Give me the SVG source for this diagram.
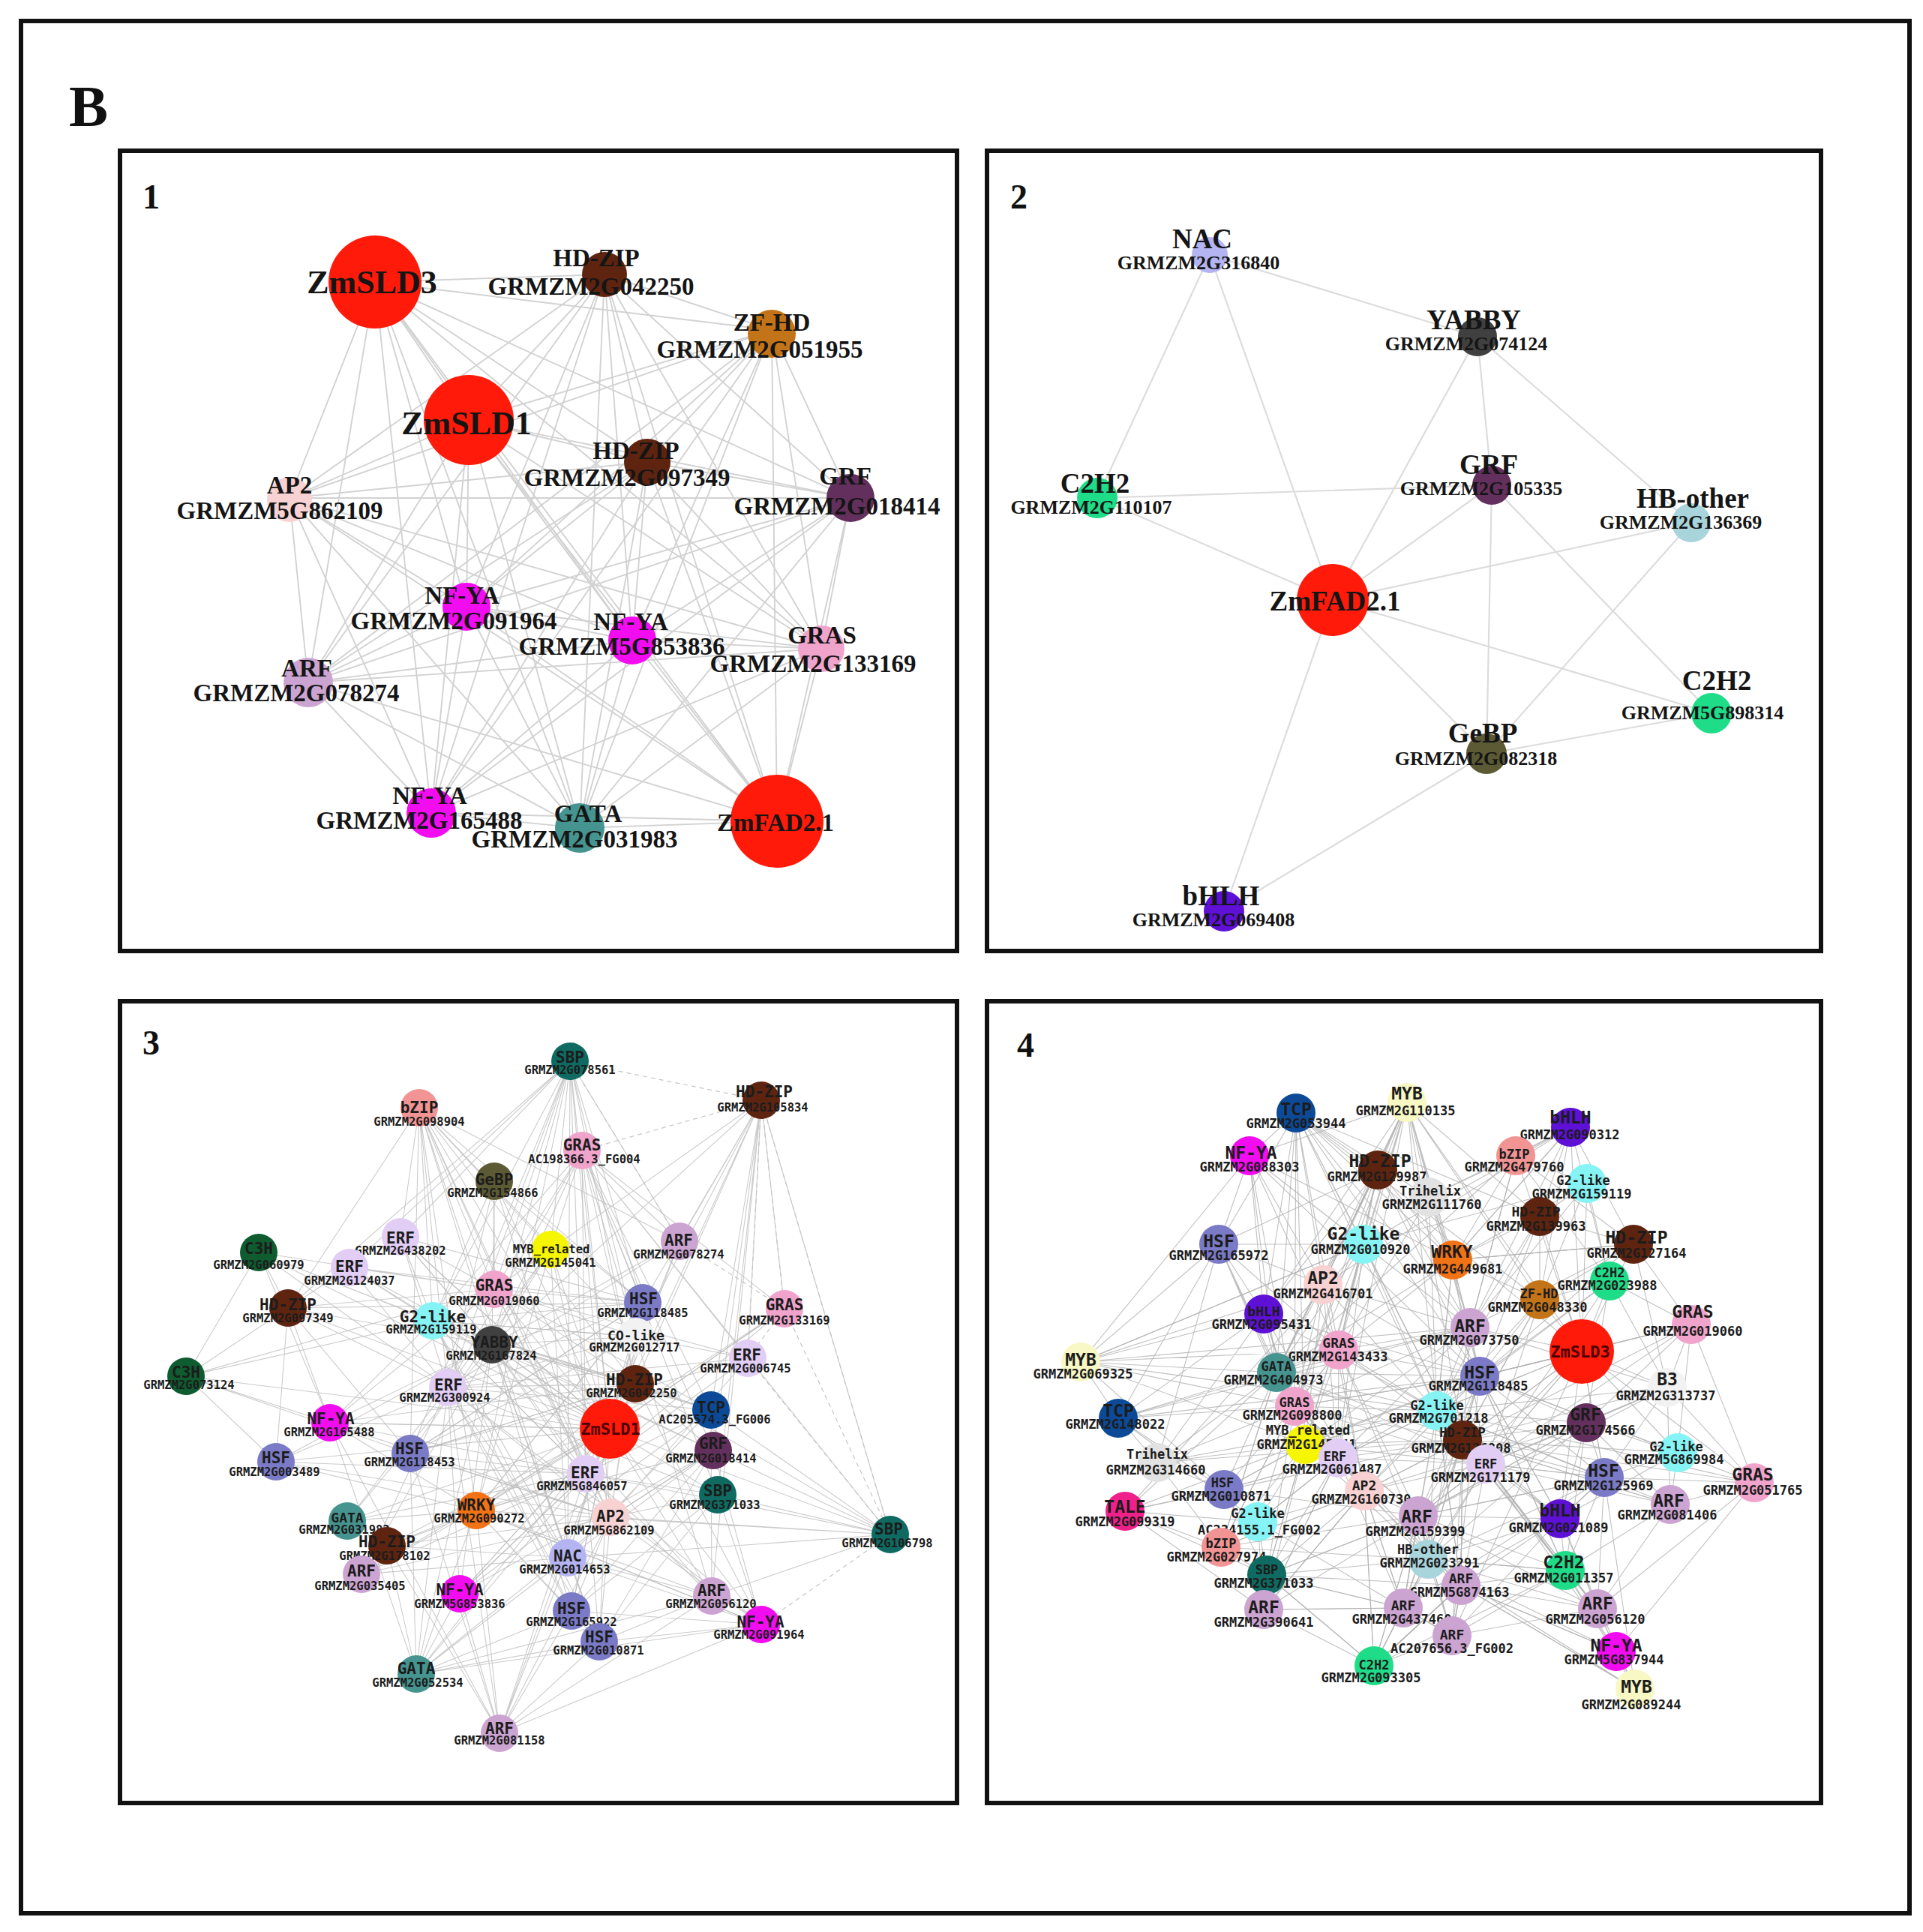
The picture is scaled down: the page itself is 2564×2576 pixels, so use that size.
<svg xmlns="http://www.w3.org/2000/svg" width="2564" height="2576" viewBox="0 0 2564 2576">
<style>
.frame{fill:none;stroke:#111;stroke-width:6}
.panel{fill:#fff;stroke:#111;stroke-width:6}
.lbl{font-family:"Liberation Serif","Times New Roman",serif;font-weight:bold;fill:#111}
.e1{fill:none;stroke:#d2d2d2;stroke-width:1.9;stroke-linejoin:round}
.e2{fill:none;stroke:#dcdcdc;stroke-width:2.2}
.e3{fill:none;stroke:#b9b9b9;stroke-width:1.1;stroke-opacity:.75;stroke-linejoin:round}
.e4{fill:none;stroke:#b0b0b0;stroke-width:1.1;stroke-opacity:.8;stroke-linejoin:round}
.ed{fill:none;stroke:#c4c4c4;stroke-width:1.2;stroke-dasharray:6 5}
.s{font-family:"Liberation Serif","Times New Roman",serif;font-weight:bold;fill:#151515;text-anchor:middle}
.s33{font-size:33px}.s44{font-size:44px}.s38{font-size:37px}.s26{font-size:26px}
.m{font-family:"DejaVu Sans Mono","Liberation Mono",monospace;font-weight:bold;fill:#1c1c1c;text-anchor:middle}
.f3{font-size:21px}.i3{font-size:15.5px}.f4{font-size:23px}.i4{font-size:17px}.g17{font-size:17px}.g18{font-size:18px}
.zt{fill:#4a0000;font-size:22px}
.red{fill:#ff1a0a}.hdzip{fill:#5e2410}.zfhd{fill:#c47418}.grf{fill:#63305d}.ap2{fill:#f8d2d2}
.nfya{fill:#f20cf0}.gras{fill:#f0a4cc}.arf{fill:#cca4d2}.gata{fill:#46948f}.nac{fill:#b4b4f2}
.yabby{fill:#404040}.c2h2{fill:#1fdc88}.hbo{fill:#a8d4dc}.gebp{fill:#5c5a34}.bhlh{fill:#5e10d6}
.sbp{fill:#0f6b62}.bzip{fill:#f29494}.erf{fill:#e2cdf5}.c3h{fill:#0e5c30}.g2{fill:#86f4f4}
.hsf{fill:#7a7ac6}.mybr{fill:#f6f600}.wrky{fill:#f27216}.tcp{fill:#0c4a98}.pale{fill:#f2f2f2}
.myb{fill:#f8f8c4}.tri{fill:#e2e2e2}.tale{fill:#f0208a}
</style>
<rect x="0" y="0" width="2564" height="2576" fill="#fff"/>
<rect class="frame" x="28" y="28" width="2518" height="2523"/>
<text class="lbl" x="92" y="168" font-size="78">B</text>
<rect class="panel" x="160" y="201" width="1116" height="1067"/>
<rect class="panel" x="1316" y="201" width="1112" height="1067"/>
<rect class="panel" x="160" y="1335" width="1116" height="1069"/>
<rect class="panel" x="1316" y="1335" width="1112" height="1069"/>
<text class="lbl" x="190" y="278" font-size="46">1</text>
<text class="lbl" x="1347" y="278" font-size="46">2</text>
<text class="lbl" x="190" y="1406" font-size="46">3</text>
<text class="lbl" x="1356" y="1409" font-size="46">4</text>

<g id="connectors">
<g id="edges-panel1">
<path class="e1" d="M500,376L806,366L1036,1095L1029,440L773,1104L625,560L575,1084L863,616L411,910L386,664L1095,865L1134,664L843,854L622,809"/>
<path class="e1" d="M806,366L1029,440L500,376L625,560L1036,1095L863,616L773,1104L386,664L575,1084L1134,664L411,910L622,809L1095,865L843,854"/>
<path class="e1" d="M1029,440L625,560L806,366L863,616L500,376L386,664L1036,1095L1134,664L773,1104L622,809L575,1084L843,854L411,910L1095,865"/>
<path class="e1" d="M625,560L863,616L1029,440L386,664L806,366L1134,664L500,376L622,809L1036,1095L843,854L773,1104L1095,865L575,1084L411,910"/>
<path class="e1" d="M863,616L386,664L625,560L1134,664L1029,440L622,809L806,366L843,854L500,376L1095,865L1036,1095L411,910L773,1104L575,1084"/>
<path class="e1" d="M386,664L1134,664L863,616L622,809L625,560L843,854L1029,440L1095,865L806,366L411,910L500,376L575,1084L1036,1095L773,1104"/>
<path class="e1" d="M1134,664L622,809L386,664L843,854L863,616L1095,865L625,560L411,910L1029,440L575,1084L806,366L773,1104L500,376L1036,1095"/>
</g>
<g id="edges-panel2">
<path class="e2" d="M1613,340L1970,449M1613,340L1463,664M1613,340L1777,800M1970,449L1989,647M1970,449L1777,800M1970,449L2255,697M1463,664L1989,647M1463,664L1777,800M1989,647L1777,800M1989,647L1982,1005M1989,647L2282,951M2255,697L1777,800M2255,697L1982,1005M1777,800L2282,951M1777,800L1982,1005M1777,800L1632,1215M1982,1005L2282,951M1982,1005L1632,1215"/>
</g>
<g id="edges-panel3">
<path class="e3" d="M559,1477L659,1719L760,1415L577,1761L559,1477L656,1793L760,1415L857,1737L559,1477L597,1850L760,1415L813,1905L559,1477L547,1938L760,1415L781,1965L559,1477L635,2014L760,1415L814,2023L559,1477L734,1666L760,1415L906,1655L559,1477L384,1744L760,1415L848,1782L559,1477L847,1845L760,1415L757,2077L559,1477L534,1649L760,1415L466,1690"/>
<path class="e3" d="M1015,1467L906,1655L776,1534L857,1737L1015,1467L1046,1745L776,1534L848,1782L1015,1467L997,1811L776,1534L847,1845L1015,1467L813,1905L776,1534L948,1880L1015,1467L951,1934L776,1534L957,1993L1015,1467L1187,2046L776,1534L734,1666L1015,1467L659,1719L776,1534L656,1793L1015,1467L949,2128L776,1534L781,1965L659,1575L659,1719L776,1534L577,1761L659,1575L597,1850L776,1534L813,1905"/>
<path class="e3" d="M659,1575L656,1793L534,1649L857,1737L659,1575L813,1905L534,1649L577,1761L466,1690L659,1719L534,1649L597,1850L466,1690L813,1905L345,1670L384,1744L466,1690L577,1761L345,1670L659,1719L384,1744L656,1793L345,1670L440,1897L384,1744L597,1850L345,1670L248,1835L384,1744L547,1938L248,1835L440,1897L384,1744L368,1949L248,1835L577,1761L440,1897L659,1719L248,1835L813,1905"/>
<path class="e3" d="M555,2232L635,2014L666,2311L814,2023L555,2232L757,2077L666,2311L613,2125L555,2232L781,1965L666,2311L813,1905L555,2232L547,1938L666,2311L762,2148L555,2232L516,2061L666,2311L799,2189L555,2232L613,2125L666,2311L949,2128L555,2232L814,2023L666,2311L757,2077L555,2232L597,1850L666,2311L635,2014L555,2232L440,1897L666,2311L1015,2166L555,2232L656,1793"/>
<path class="e3" d="M1187,2046L813,1905L1015,2166L951,1934L1187,2046L957,1993L1015,2166L814,2023L1187,2046L781,1965L1015,2166L757,2077L1187,2046L948,1880L949,2128L813,1905L1187,2046L847,1845L1015,2166L635,2014L1187,2046L949,2128L799,2189L1015,2166L762,2148L957,1993L799,2189L951,1934L762,2148L813,1905L799,2189L781,1965L613,2125L948,1880L757,2077L951,1934L814,2023L997,1811L781,1965L1046,1745L813,1905L906,1655"/>
<path class="e3" d="M734,1666L656,1793L857,1737L597,1850L848,1782L547,1938L847,1845L635,2014L813,1905L577,1761L781,1965L659,1719L814,2023L734,1666L757,2077L857,1737L656,1793L847,1845L577,1761L848,1782L597,1850L813,1905L659,1719L781,1965L656,1793L814,2023L547,1938L734,1666L635,2014L857,1737L813,1905L656,1793L757,2077L848,1782L659,1719L847,1845L597,1850L957,1993L577,1761L951,1934L656,1793L948,1880L659,1719L997,1811L848,1782L814,2023L857,1737L547,1938L781,1965L906,1655"/>
<path class="e3" d="M440,1897L656,1793L368,1949L813,1905L440,1897L635,2014L368,1949L781,1965L440,1897L814,2023L368,1949L597,1850L463,2028L813,1905L516,2061L781,1965L463,2028L635,2014L516,2061L757,2077L482,2099L813,1905L463,2028L656,1793L482,2099L635,2014L516,2061L814,2023L482,2099L597,1850L613,2125L813,1905L482,2099L781,1965L613,2125L656,1793L762,2148L635,2014L799,2189L597,1850L762,2148L577,1761L799,2189L656,1793L949,2128L635,2014L1015,2166L597,1850"/>
<path class="e3" d="M659,1719L857,1737L577,1761L847,1845L656,1793L813,1905L734,1666L597,1850L906,1655L656,1793L848,1782L577,1761L948,1880L597,1850L997,1811L547,1938L857,1737L635,2014L1046,1745L813,1905L534,1649L656,1793L466,1690L857,1737L384,1744L813,1905L440,1897L847,1845L547,1938L814,2023L597,1850L757,2077L577,1761L781,1965L635,2014L951,1934L613,2125L813,1905L762,2148L814,2023L799,2189L757,2077L949,2128L781,1965L957,1993L814,2023L951,1934L847,1845L948,1880L781,1965"/>
<path class="ed" d="M760,1415L1015,1467L1187,2046L1015,2166M1015,1467L1046,1745L1187,2046M906,1655L1046,1745M760,1415L906,1655M1015,1467L997,1811L1187,2046M1046,1745L997,1811M776,1534L1015,1467"/>
</g>
<g id="edges-panel4">
<path class="e4" d="M1728,1484L1818,1659L1876,1470L1764,1713L1728,1484L1685,1752L1876,1470L1960,1770L1728,1484L1785,1800L1876,1470L2109,1802L1728,1484L1702,1830L1876,1470L1973,1835L1728,1484L1937,1680L1876,1470L1916,1881L1728,1484L1726,1875L1876,1470L1950,1920L1728,1484L1905,1596L1876,1470L2053,1622L1728,1484L1837,1560L1876,1470L2053,1733L1728,1484L1740,1926L1876,1470L1784,1944"/>
<path class="e4" d="M1666,1541L1625,1659L1837,1560L1685,1752L1666,1541L1764,1713L1837,1560L1785,1800L1666,1541L1818,1659L1837,1560L1702,1830L1666,1541L1937,1680L1837,1560L1960,1770L1666,1541L1726,1875L1837,1560L1973,1835L1666,1541L1441,1816L1625,1659L1818,1659L1441,1816L1685,1752L1625,1659L1785,1800L1441,1816L1702,1830L1625,1659L1491,1891L1441,1816L1726,1875L1625,1659L1764,1713L1441,1816L1740,1926L1625,1659L1543,1950L1491,1891L1685,1752L1543,1950L1702,1830L1491,1891L1785,1800"/>
<path class="e4" d="M2094,1503L2021,1541L2116,1578L2053,1622L2094,1503L2178,1659L2021,1541L1937,1680L2094,1503L2146,1708L2116,1578L2053,1733L2094,1503L2109,1802L2021,1541L1960,1770L2116,1578L2109,1802L2053,1622L1937,1680L2178,1659L2109,1802L2116,1578L2146,1708L2021,1541L1905,1596L2094,1503L2053,1622L2178,1659L2053,1733L2146,1708L2255,1766L2178,1659L2223,1850L2146,1708L2109,1802L2255,1766L2223,1850L2109,1802L2053,1733L2053,1622L1960,1770L1905,1596L1937,1680L2053,1733L1973,1835"/>
<path class="e4" d="M2109,1802L1973,1835L2115,1897L1916,1881L2109,1802L1950,1920L2115,1897L1981,1952L2109,1802L1960,1770L1973,1835L1950,1920L2053,1733L1916,1881L1937,1680L1973,1835L1960,1770L1916,1881L2146,1708L2115,1897L2223,1850L2139,1970L2109,1802L2237,1937L2255,1766L2115,1897L2237,1937L2139,1970L2339,1977L2227,2006L2237,1937L2080,2025L2139,1970L2115,1897L2227,2006L2223,1850L2339,1977L2255,1766L2237,1937L2115,1897"/>
<path class="e4" d="M1441,1816L1632,1986L1491,1891L1677,2029L1500,2015L1632,1986L1543,1950L1628,2063L1500,2015L1677,2029L1491,1891L1726,1875L1543,1950L1740,1926L1632,1986L1784,1944L1677,2029L1819,1988L1628,2063L1689,2100L1677,2029L1685,2146L1689,2100L1819,1988L1685,2146L1871,2144L1689,2100L1904,2079L1628,2063L1891,2021L1632,1986L1689,2100L1500,2015L1685,2146"/>
<path class="e4" d="M2180,2252L2155,2202L2130,2145L2087,2094L2180,2252L2080,2025L2155,2202L2087,2094L2130,2145L2139,1970L2180,2252L1948,2114L2155,2202L1904,2079L2130,2145L1936,2181L1832,2221L1871,2144L1936,2181L1948,2114L1832,2221L1904,2079L1936,2181L1891,2021L1832,2221L1689,2100L1871,2144L1891,2021L1948,2114L1904,2079L2087,2094L1981,1952L2130,2145L2080,2025L2139,1970L2087,2094L2227,2006L2130,2145L2339,1977L2155,2202"/>
<path class="e4" d="M1764,1713L1960,1770L1785,1800L1973,1835L1702,1830L1916,1881L1726,1875L1950,1920L1740,1926L1981,1952L1784,1944L1819,1988L1891,2021L1916,1881L1785,1800L1950,1920L1702,1830L1981,1952L1726,1875L1973,1835L1784,1944L1960,1770L1740,1926L1916,1881L1819,1988L1950,1920L1891,2021L1981,1952L1904,2079L1950,1920L1948,2114L1916,1881L1871,2144L1973,1835L1936,2181L1960,1770L1904,2079L1785,1800L1891,2021L1726,1875L1819,1988L1784,1944L1916,1881L1685,1752L1973,1835L1764,1713L1950,1920L1818,1659L1916,1881L1937,1680L1981,1952L2109,1802L1891,2021L2115,1897L1819,1988L1973,1835L2109,1802L1916,1881"/>
<path class="e4" d="M1685,1752L1702,1830L1785,1800L1726,1875L1685,1752L1740,1926L1702,1830L1784,1944L1785,1800L1819,1988L1726,1875L1677,2029L1740,1926L1632,1986L1702,1830L1628,2063L1726,1875L1689,2100L1740,1926L1685,2146L1784,1944L1871,2144L1819,1988L1832,2221L1891,2021L1871,2144L1904,2079L1832,2221L1948,2114L1936,2181L1871,2144L1685,2146L1832,2221L1689,2100L1891,2021L2080,2025L2087,2094L1891,2021L2139,1970L1981,1952L2080,2025L1950,1920L2087,2094L1973,1835L2080,2025L1916,1881L2130,2145L1981,1952L2155,2202L1948,2114L2180,2252L1904,2079"/>
<path class="e4" d="M1441,1816L1960,1770L1491,1891L1973,1835L1500,2015L1950,1920L1543,1950L1916,1881L1441,1816L1818,1659L1500,2015L1702,1830L1628,2063L1819,1988L1685,2146L1891,2021L1689,2100L1948,2114L1832,2221L2087,2094L1936,2181L2080,2025L1871,2144L2139,1970L1904,2079L2115,1897L1891,2021L2223,1850L1981,1952L2227,2006L1950,1920L2255,1766L1973,1835L2339,1977L1916,1881L2223,1850L1960,1770L2178,1659L1937,1680L2116,1578L1818,1659L2094,1503L1764,1713L1876,1470L1666,1541L1728,1484L1625,1659"/>
<path class="e4" d="M1818,1659L1785,1800L1937,1680L1702,1830L1960,1770L1726,1875L1973,1835L1740,1926L1916,1881L1784,1944L1950,1920L1819,1988L1981,1952L1891,2021L1973,1835L1904,2079L1916,1881L1948,2114L1950,1920L1871,2144L1981,1952L1936,2181L2109,1802L1950,1920L2053,1733L1981,1952L2146,1708L1973,1835L2053,1622L1916,1881L1905,1596L1785,1800L1837,1560L1702,1830L2021,1541L1960,1770L2094,1503L1937,1680L2178,1659L1973,1835L2255,1766L1981,1952L2223,1850L1950,1920L2237,1937L1973,1835L2139,1970L1916,1881L2227,2006L1950,1920L2339,1977L2109,1802"/>
<path class="e4" d="M1764,1713L1702,1830L1818,1659L1726,1875L1764,1713L1740,1926L1818,1659L1784,1944L1764,1713L1819,1988L1685,1752L1726,1875L1785,1800L1740,1926L1702,1830L1819,1988L1726,1875L1891,2021L1740,1926L1904,2079L1784,1944L1948,2114L1819,1988L1871,2144L1677,2029L1784,1944L1632,1986L1726,1875L1628,2063L1740,1926L1689,2100L1784,1944L1685,2146L1819,1988L1832,2221L1904,2079L1891,2021L1936,2181L1871,2144L1832,2221L1948,2114L2087,2094L1904,2079L2080,2025L1948,2114L2130,2145L1891,2021L2139,1970L1950,1920L2080,2025L1973,1835L2087,2094L1981,1952L2139,1970L2109,1802L2080,2025L2115,1897L2087,2094L1916,1881L2139,1970"/>
</g>
</g>

<g id="panel1-nodes">
<g id="p1-zmsld3"><circle class="red" cx="500" cy="376" r="62"/><text class="s s44" x="496" y="391">ZmSLD3</text></g>
<g id="p1-hdzip-042250"><circle class="hdzip" cx="806" cy="366" r="30"/><text class="s s33" x="795" y="355">HD-ZIP</text><text class="s s33" x="788" y="393">GRMZM2G042250</text></g>
<g id="p1-zfhd"><circle class="zfhd" cx="1029" cy="445" r="32"/><text class="s s33" x="1029" y="441">ZF-HD</text><text class="s s33" x="1013" y="477">GRMZM2G051955</text></g>
<g id="p1-zmsld1"><circle class="red" cx="625" cy="560" r="60"/><text class="s s44" x="622" y="579">ZmSLD1</text></g>
<g id="p1-hdzip-097349"><circle class="hdzip" cx="863" cy="616" r="31"/><text class="s s33" x="848" y="612">HD-ZIP</text><text class="s s33" x="836" y="648">GRMZM2G097349</text></g>
<g id="p1-ap2"><circle class="ap2" cx="386" cy="666" r="30"/><text class="s s33" x="386" y="658">AP2</text><text class="s s33" x="373" y="692">GRMZM5G862109</text></g>
<g id="p1-grf"><circle class="grf" cx="1134" cy="664" r="32"/><text class="s s33" x="1127" y="646">GRF</text><text class="s s33" x="1116" y="686">GRMZM2G018414</text></g>
<g id="p1-nfya-091964"><circle class="nfya" cx="622" cy="809" r="32"/><text class="s s33" x="616" y="805">NF-YA</text><text class="s s33" x="605" y="839">GRMZM2G091964</text></g>
<g id="p1-nfya-853836"><circle class="nfya" cx="843" cy="854" r="32"/><text class="s s33" x="841" y="840">NF-YA</text><text class="s s33" x="829" y="873">GRMZM5G853836</text></g>
<g id="p1-gras"><circle class="gras" cx="1095" cy="865" r="31"/><text class="s s33" x="1096" y="858">GRAS</text><text class="s s33" x="1084" y="896">GRMZM2G133169</text></g>
<g id="p1-arf"><circle class="arf" cx="411" cy="910" r="33"/><text class="s s33" x="409" y="902">ARF</text><text class="s s33" x="395" y="935">GRMZM2G078274</text></g>
<g id="p1-nfya-165488"><circle class="nfya" cx="575" cy="1084" r="33"/><text class="s s33" x="573" y="1072">NF-YA</text><text class="s s33" x="559" y="1105">GRMZM2G165488</text></g>
<g id="p1-gata"><circle class="gata" cx="773" cy="1104" r="33"/><text class="s s33" x="784" y="1096">GATA</text><text class="s s33" x="766" y="1130">GRMZM2G031983</text></g>
<g id="p1-zmfad21"><circle class="red" cx="1036" cy="1095" r="62"/><text class="s s33" x="1034" y="1108">ZmFAD2.1</text></g>
</g>

<g id="panel2-nodes">
<g id="p2-nac"><circle class="nac" cx="1613" cy="340" r="24"/><text class="s s38" x="1603" y="331">NAC</text><text class="s s26" x="1598" y="359">GRMZM2G316840</text></g>
<g id="p2-yabby"><circle class="yabby" cx="1970" cy="449" r="26"/><text class="s s38" x="1965" y="439">YABBY</text><text class="s s26" x="1955" y="467">GRMZM2G074124</text></g>
<g id="p2-c2h2-110107"><circle class="c2h2" cx="1463" cy="664" r="27"/><text class="s s38" x="1460" y="657">C2H2</text><text class="s s26" x="1455" y="685">GRMZM2G110107</text></g>
<g id="p2-grf"><circle class="grf" cx="1989" cy="647" r="26"/><text class="s s38" x="1985" y="632">GRF</text><text class="s s26" x="1975" y="660">GRMZM2G105335</text></g>
<g id="p2-hbother"><circle class="hbo" cx="2255" cy="697" r="26"/><text class="s s38" x="2257" y="677">HB-other</text><text class="s s26" x="2241" y="705">GRMZM2G136369</text></g>
<g id="p2-zmfad21"><circle class="red" cx="1777" cy="800" r="48"/><text class="s s38" x="1780" y="814">ZmFAD2.1</text></g>
<g id="p2-c2h2-898314"><circle class="c2h2" cx="2282" cy="951" r="27"/><text class="s s38" x="2289" y="920">C2H2</text><text class="s s26" x="2270" y="959">GRMZM5G898314</text></g>
<g id="p2-gebp"><circle class="gebp" cx="1982" cy="1005" r="27"/><text class="s s38" x="1977" y="990">GeBP</text><text class="s s26" x="1968" y="1020">GRMZM2G082318</text></g>
<g id="p2-bhlh"><circle class="bhlh" cx="1632" cy="1215" r="27"/><text class="s s38" x="1628" y="1207">bHLH</text><text class="s s26" x="1618" y="1235">GRMZM2G069408</text></g>
</g>

<g id="panel3-nodes">
<g id="p3-sbp-078561"><circle class="sbp" cx="760" cy="1415" r="25"/><text class="m f3" x="760" y="1417">SBP</text><text class="m i3" x="760" y="1432">GRMZM2G078561</text></g>
<g id="p3-bzip"><circle class="bzip" cx="559" cy="1477" r="25"/><text class="m f3" x="559" y="1484">bZIP</text><text class="m i3" x="559" y="1501">GRMZM2G098904</text></g>
<g id="p3-hdzip-105834"><circle class="hdzip" cx="1015" cy="1467" r="25"/><text class="m f3" x="1019" y="1463">HD-ZIP</text><text class="m i3" x="1017" y="1482">GRMZM2G105834</text></g>
<g id="p3-gras-ac198366"><circle class="gras" cx="776" cy="1534" r="25"/><text class="m f3" x="776" y="1534">GRAS</text><text class="m i3" x="779" y="1551">AC198366.3_FG004</text></g>
<g id="p3-gebp"><circle class="gebp" cx="659" cy="1575" r="25"/><text class="m f3" x="659" y="1580">GeBP</text><text class="m i3" x="657" y="1596">GRMZM2G154866</text></g>
<g id="p3-erf-438202"><circle class="erf" cx="534" cy="1649" r="25"/><text class="m f3" x="534" y="1658">ERF</text><text class="m i3" x="534" y="1673">GRMZM2G438202</text></g>
<g id="p3-c3h-060979"><circle class="c3h" cx="345" cy="1670" r="25"/><text class="m f3" x="345" y="1672">C3H</text><text class="m i3" x="345" y="1692">GRMZM2G060979</text></g>
<g id="p3-erf-124037"><circle class="erf" cx="466" cy="1690" r="25"/><text class="m f3" x="466" y="1696">ERF</text><text class="m i3" x="466" y="1713">GRMZM2G124037</text></g>
<g id="p3-mybrel"><circle class="mybr" cx="734" cy="1666" r="25"/><text class="m i3" x="735" y="1671">MYB_related</text><text class="m i3" x="734" y="1689">GRMZM2G145041</text></g>
<g id="p3-arf-078274"><circle class="arf" cx="906" cy="1655" r="25"/><text class="m f3" x="905" y="1661">ARF</text><text class="m i3" x="905" y="1678">GRMZM2G078274</text></g>
<g id="p3-hdzip-097349"><circle class="hdzip" cx="384" cy="1744" r="25"/><text class="m f3" x="384" y="1747">HD-ZIP</text><text class="m i3" x="384" y="1763">GRMZM2G097349</text></g>
<g id="p3-gras-019060"><circle class="gras" cx="659" cy="1719" r="25"/><text class="m f3" x="659" y="1721">GRAS</text><text class="m i3" x="659" y="1740">GRMZM2G019060</text></g>
<g id="p3-g2like"><circle class="g2" cx="577" cy="1761" r="25"/><text class="m f3" x="577" y="1763">G2-like</text><text class="m i3" x="575" y="1778">GRMZM2G159119</text></g>
<g id="p3-yabby"><circle class="yabby" cx="656" cy="1793" r="25"/><text class="m f3" x="659" y="1797">YABBY</text><text class="m i3" x="655" y="1813">GRMZM2G167824</text></g>
<g id="p3-hsf-118485"><circle class="hsf" cx="857" cy="1737" r="25"/><text class="m f3" x="858" y="1739">HSF</text><text class="m i3" x="857" y="1756">GRMZM2G118485</text></g>
<g id="p3-gras-133169"><circle class="gras" cx="1046" cy="1745" r="25"/><text class="m f3" x="1046" y="1747">GRAS</text><text class="m i3" x="1046" y="1766">GRMZM2G133169</text></g>
<g id="p3-colike"><circle class="pale" cx="848" cy="1782" r="25"/><text class="m g18" x="848" y="1787">CO-like</text><text class="m i3" x="846" y="1802">GRMZM2G012717</text></g>
<g id="p3-c3h-073124"><circle class="c3h" cx="248" cy="1835" r="25"/><text class="m f3" x="248" y="1837">C3H</text><text class="m i3" x="252" y="1852">GRMZM2G073124</text></g>
<g id="p3-erf-300924"><circle class="erf" cx="597" cy="1850" r="25"/><text class="m f3" x="598" y="1854">ERF</text><text class="m i3" x="593" y="1869">GRMZM2G300924</text></g>
<g id="p3-erf-006745"><circle class="erf" cx="997" cy="1811" r="25"/><text class="m f3" x="996" y="1814">ERF</text><text class="m i3" x="994" y="1830">GRMZM2G006745</text></g>
<g id="p3-hdzip-042250"><circle class="hdzip" cx="847" cy="1845" r="25"/><text class="m f3" x="846" y="1847">HD-ZIP</text><text class="m i3" x="842" y="1863">GRMZM2G042250</text></g>
<g id="p3-zmsld1"><circle class="red" cx="813" cy="1905" r="40"/><text class="m zt" x="814" y="1913">ZmSLD1</text></g>
<g id="p3-tcp"><circle class="tcp" cx="948" cy="1880" r="25"/><text class="m f3" x="948" y="1884">TCP</text><text class="m i3" x="953" y="1898">AC205574.3_FG006</text></g>
<g id="p3-nfya-165488"><circle class="nfya" cx="440" cy="1897" r="25"/><text class="m f3" x="441" y="1899">NF-YA</text><text class="m i3" x="439" y="1915">GRMZM2G165488</text></g>
<g id="p3-hsf-003489"><circle class="hsf" cx="368" cy="1949" r="25"/><text class="m f3" x="368" y="1951">HSF</text><text class="m i3" x="366" y="1968">GRMZM2G003489</text></g>
<g id="p3-hsf-118453"><circle class="hsf" cx="547" cy="1938" r="25"/><text class="m f3" x="546" y="1939">HSF</text><text class="m i3" x="546" y="1955">GRMZM2G118453</text></g>
<g id="p3-erf-846057"><circle class="erf" cx="781" cy="1965" r="25"/><text class="m f3" x="780" y="1971">ERF</text><text class="m i3" x="776" y="1987">GRMZM5G846057</text></g>
<g id="p3-grf"><circle class="grf" cx="951" cy="1934" r="25"/><text class="m f3" x="951" y="1932">GRF</text><text class="m i3" x="948" y="1950">GRMZM2G018414</text></g>
<g id="p3-wrky"><circle class="wrky" cx="635" cy="2014" r="25"/><text class="m f3" x="635" y="2014">WRKY</text><text class="m i3" x="639" y="2030">GRMZM2G090272</text></g>
<g id="p3-sbp-371033"><circle class="sbp" cx="957" cy="1993" r="25"/><text class="m f3" x="957" y="1995">SBP</text><text class="m i3" x="953" y="2012">GRMZM2G371033</text></g>
<g id="p3-ap2"><circle class="ap2" cx="814" cy="2023" r="25"/><text class="m f3" x="814" y="2029">AP2</text><text class="m i3" x="812" y="2046">GRMZM5G862109</text></g>
<g id="p3-gata-031983"><circle class="gata" cx="463" cy="2028" r="25"/><text class="m g18" x="463" y="2030">GATA</text><text class="m i3" x="459" y="2045">GRMZM2G031983</text></g>
<g id="p3-hdzip-178102"><circle class="hdzip" cx="516" cy="2061" r="25"/><text class="m f3" x="516" y="2063">HD-ZIP</text><text class="m i3" x="513" y="2080">GRMZM2G178102</text></g>
<g id="p3-sbp-106798"><circle class="sbp" cx="1187" cy="2046" r="25"/><text class="m f3" x="1185" y="2046">SBP</text><text class="m i3" x="1183" y="2063">GRMZM2G106798</text></g>
<g id="p3-nac"><circle class="nac" cx="757" cy="2077" r="25"/><text class="m f3" x="757" y="2082">NAC</text><text class="m i3" x="753" y="2098">GRMZM2G014653</text></g>
<g id="p3-arf-035405"><circle class="arf" cx="482" cy="2099" r="25"/><text class="m f3" x="482" y="2102">ARF</text><text class="m i3" x="480" y="2120">GRMZM2G035405</text></g>
<g id="p3-nfya-853836"><circle class="nfya" cx="613" cy="2125" r="25"/><text class="m f3" x="613" y="2127">NF-YA</text><text class="m i3" x="613" y="2144">GRMZM5G853836</text></g>
<g id="p3-arf-056120"><circle class="arf" cx="949" cy="2128" r="25"/><text class="m f3" x="949" y="2128">ARF</text><text class="m i3" x="948" y="2144">GRMZM2G056120</text></g>
<g id="p3-hsf-165922"><circle class="hsf" cx="762" cy="2148" r="25"/><text class="m f3" x="762" y="2152">HSF</text><text class="m i3" x="762" y="2168">GRMZM2G165922</text></g>
<g id="p3-nfya-091964"><circle class="nfya" cx="1015" cy="2166" r="25"/><text class="m f3" x="1014" y="2170">NF-YA</text><text class="m i3" x="1012" y="2185">GRMZM2G091964</text></g>
<g id="p3-hsf-010871"><circle class="hsf" cx="799" cy="2189" r="25"/><text class="m f3" x="799" y="2190">HSF</text><text class="m i3" x="798" y="2206">GRMZM2G010871</text></g>
<g id="p3-gata-052534"><circle class="gata" cx="555" cy="2232" r="25"/><text class="m f3" x="555" y="2232">GATA</text><text class="m i3" x="557" y="2249">GRMZM2G052534</text></g>
<g id="p3-arf-081158"><circle class="arf" cx="666" cy="2311" r="25"/><text class="m f3" x="666" y="2312">ARF</text><text class="m i3" x="666" y="2326">GRMZM2G081158</text></g>
</g>

<g id="panel4-nodes">
<g id="p4-tcp-053944"><circle class="tcp" cx="1728" cy="1484" r="26"/><text class="m f4" x="1728" y="1487">TCP</text><text class="m i4" x="1728" y="1504">GRMZM2G053944</text></g>
<g id="p4-myb-110135"><circle class="myb" cx="1876" cy="1470" r="26"/><text class="m f4" x="1876" y="1466">MYB</text><text class="m i4" x="1874" y="1487">GRMZM2G110135</text></g>
<g id="p4-bhlh-090312"><circle class="bhlh" cx="2094" cy="1503" r="26"/><text class="m f4" x="2094" y="1498">bHLH</text><text class="m i4" x="2093" y="1519">GRMZM2G090312</text></g>
<g id="p4-nfya-088303"><circle class="nfya" cx="1666" cy="1541" r="26"/><text class="m f4" x="1668" y="1545">NF-YA</text><text class="m i4" x="1666" y="1562">GRMZM2G088303</text></g>
<g id="p4-bzip-479760"><circle class="bzip" cx="2021" cy="1541" r="26"/><text class="m g17" x="2019" y="1545">bZIP</text><text class="m i4" x="2019" y="1562">GRMZM2G479760</text></g>
<g id="p4-hdzip-129987"><circle class="hdzip" cx="1837" cy="1560" r="26"/><text class="m f4" x="1840" y="1556">HD-ZIP</text><text class="m i4" x="1836" y="1575">GRMZM2G129987</text></g>
<g id="p4-g2like-159119"><circle class="g2" cx="2116" cy="1578" r="26"/><text class="m g17" x="2111" y="1580">G2-like</text><text class="m i4" x="2109" y="1598">GRMZM2G159119</text></g>
<g id="p4-trihelix-111760"><circle class="tri" cx="1905" cy="1596" r="26"/><text class="m g17" x="1907" y="1594">Trihelix</text><text class="m i4" x="1909" y="1612">GRMZM2G111760</text></g>
<g id="p4-hdzip-139963"><circle class="hdzip" cx="2053" cy="1622" r="26"/><text class="m g18" x="2048" y="1622">HD-ZIP</text><text class="m i4" x="2048" y="1641">GRMZM2G139963</text></g>
<g id="p4-hsf-165972"><circle class="hsf" cx="1625" cy="1659" r="26"/><text class="m f4" x="1625" y="1663">HSF</text><text class="m i4" x="1625" y="1680">GRMZM2G165972</text></g>
<g id="p4-g2like-010920"><circle class="g2" cx="1818" cy="1659" r="26"/><text class="m f4" x="1818" y="1653">G2-like</text><text class="m i4" x="1814" y="1672">GRMZM2G010920</text></g>
<g id="p4-hdzip-127164"><circle class="hdzip" cx="2178" cy="1659" r="26"/><text class="m f4" x="2182" y="1658">HD-ZIP</text><text class="m i4" x="2182" y="1677">GRMZM2G127164</text></g>
<g id="p4-wrky"><circle class="wrky" cx="1937" cy="1680" r="26"/><text class="m f4" x="1936" y="1677">WRKY</text><text class="m i4" x="1937" y="1698">GRMZM2G449681</text></g>
<g id="p4-c2h2-023988"><circle class="c2h2" cx="2146" cy="1708" r="26"/><text class="m g17" x="2146" y="1703">C2H2</text><text class="m i4" x="2143" y="1720">GRMZM2G023988</text></g>
<g id="p4-ap2-416701"><circle class="ap2" cx="1764" cy="1713" r="26"/><text class="m f4" x="1764" y="1712">AP2</text><text class="m i4" x="1764" y="1731">GRMZM2G416701</text></g>
<g id="p4-zfhd"><circle class="zfhd" cx="2053" cy="1733" r="26"/><text class="m g17" x="2052" y="1731">ZF-HD</text><text class="m i4" x="2050" y="1749">GRMZM2G048330</text></g>
<g id="p4-bhlh-095431"><circle class="bhlh" cx="1685" cy="1752" r="26"/><text class="m g18" x="1685" y="1755">bHLH</text><text class="m i4" x="1682" y="1772">GRMZM2G095431</text></g>
<g id="p4-gras-019060"><circle class="gras" cx="2255" cy="1766" r="26"/><text class="m f4" x="2257" y="1757">GRAS</text><text class="m i4" x="2257" y="1781">GRMZM2G019060</text></g>
<g id="p4-arf-073750"><circle class="arf" cx="1960" cy="1770" r="26"/><text class="m f4" x="1960" y="1776">ARF</text><text class="m i4" x="1959" y="1793">GRMZM2G073750</text></g>
<g id="p4-gras-143433"><circle class="gras" cx="1785" cy="1800" r="26"/><text class="m g18" x="1785" y="1797">GRAS</text><text class="m i4" x="1784" y="1815">GRMZM2G143433</text></g>
<g id="p4-zmsld3"><circle class="red" cx="2109" cy="1802" r="43"/><text class="m zt" x="2107" y="1810">ZmSLD3</text></g>
<g id="p4-myb-069325"><circle class="myb" cx="1441" cy="1816" r="26"/><text class="m f4" x="1441" y="1821">MYB</text><text class="m i4" x="1444" y="1838">GRMZM2G069325</text></g>
<g id="p4-gata"><circle class="gata" cx="1702" cy="1830" r="26"/><text class="m g17" x="1702" y="1828">GATA</text><text class="m i4" x="1698" y="1846">GRMZM2G404973</text></g>
<g id="p4-hsf-118485"><circle class="hsf" cx="1973" cy="1835" r="26"/><text class="m f4" x="1973" y="1838">HSF</text><text class="m i4" x="1971" y="1854">GRMZM2G118485</text></g>
<g id="p4-b3"><circle class="pale" cx="2223" cy="1850" r="26"/><text class="m f4" x="2223" y="1847">B3</text><text class="m i4" x="2221" y="1867">GRMZM2G313737</text></g>
<g id="p4-gras-098800"><circle class="gras" cx="1726" cy="1875" r="26"/><text class="m g17" x="1726" y="1876">GRAS</text><text class="m i4" x="1723" y="1893">GRMZM2G098800</text></g>
<g id="p4-g2like-701218"><circle class="g2" cx="1916" cy="1881" r="26"/><text class="m g17" x="1916" y="1880">G2-like</text><text class="m i4" x="1918" y="1897">GRMZM2G701218</text></g>
<g id="p4-tcp-148022"><circle class="tcp" cx="1491" cy="1891" r="26"/><text class="m f4" x="1491" y="1889">TCP</text><text class="m i4" x="1487" y="1905">GRMZM2G148022</text></g>
<g id="p4-grf"><circle class="grf" cx="2115" cy="1897" r="26"/><text class="m f4" x="2114" y="1894">GRF</text><text class="m i4" x="2114" y="1913">GRMZM2G174566</text></g>
<g id="p4-hdzip-126808"><circle class="hdzip" cx="1950" cy="1920" r="26"/><text class="m g17" x="1950" y="1916">HD-ZIP</text><text class="m i4" x="1948" y="1937">GRMZM2G126808</text></g>
<g id="p4-mybrel"><circle class="mybr" cx="1740" cy="1926" r="26"/><text class="m g17" x="1744" y="1913">MYB_related</text><text class="m i4" x="1742" y="1932">GRMZM2G145041</text></g>
<g id="p4-g2like-869984"><circle class="g2" cx="2237" cy="1937" r="26"/><text class="m g17" x="2235" y="1935">G2-like</text><text class="m i4" x="2232" y="1952">GRMZM5G869984</text></g>
<g id="p4-trihelix-314660"><circle class="tri" cx="1543" cy="1950" r="26"/><text class="m g17" x="1543" y="1945">Trihelix</text><text class="m i4" x="1541" y="1966">GRMZM2G314660</text></g>
<g id="p4-erf-061487"><circle class="erf" cx="1784" cy="1944" r="26"/><text class="m g17" x="1780" y="1948">ERF</text><text class="m i4" x="1776" y="1965">GRMZM2G061487</text></g>
<g id="p4-erf-171179"><circle class="erf" cx="1981" cy="1952" r="26"/><text class="m g17" x="1981" y="1958">ERF</text><text class="m i4" x="1974" y="1976">GRMZM2G171179</text></g>
<g id="p4-hsf-125969"><circle class="hsf" cx="2139" cy="1970" r="26"/><text class="m f4" x="2138" y="1969">HSF</text><text class="m i4" x="2138" y="1987">GRMZM2G125969</text></g>
<g id="p4-gras-051765"><circle class="gras" cx="2339" cy="1977" r="26"/><text class="m f4" x="2337" y="1974">GRAS</text><text class="m i4" x="2337" y="1993">GRMZM2G051765</text></g>
<g id="p4-hsf-010871"><circle class="hsf" cx="1632" cy="1986" r="26"/><text class="m g17" x="1630" y="1983">HSF</text><text class="m i4" x="1628" y="2001">GRMZM2G010871</text></g>
<g id="p4-ap2-160730"><circle class="ap2" cx="1819" cy="1988" r="26"/><text class="m g18" x="1819" y="1987">AP2</text><text class="m i4" x="1815" y="2005">GRMZM2G160730</text></g>
<g id="p4-arf-081406"><circle class="arf" cx="2227" cy="2006" r="26"/><text class="m f4" x="2225" y="2009">ARF</text><text class="m i4" x="2223" y="2026">GRMZM2G081406</text></g>
<g id="p4-tale"><circle class="tale" cx="1500" cy="2015" r="26"/><text class="m f4" x="1500" y="2017">TALE</text><text class="m i4" x="1500" y="2035">GRMZM2G099319</text></g>
<g id="p4-arf-159399"><circle class="arf" cx="1891" cy="2021" r="26"/><text class="m f4" x="1889" y="2030">ARF</text><text class="m i4" x="1887" y="2048">GRMZM2G159399</text></g>
<g id="p4-bhlh-021089"><circle class="bhlh" cx="2080" cy="2025" r="26"/><text class="m f4" x="2080" y="2022">bHLH</text><text class="m i4" x="2078" y="2043">GRMZM2G021089</text></g>
<g id="p4-g2like-ac234155"><circle class="g2" cx="1677" cy="2029" r="26"/><text class="m g17" x="1677" y="2024">G2-like</text><text class="m i4" x="1679" y="2046">AC234155.1_FG002</text></g>
<g id="p4-bzip-027974"><circle class="bzip" cx="1628" cy="2063" r="26"/><text class="m g17" x="1628" y="2064">bZIP</text><text class="m i4" x="1622" y="2082">GRMZM2G027974</text></g>
<g id="p4-hbother"><circle class="hbo" cx="1904" cy="2079" r="26"/><text class="m g17" x="1904" y="2072">HB-other</text><text class="m i4" x="1906" y="2090">GRMZM2G023291</text></g>
<g id="p4-c2h2-011357"><circle class="c2h2" cx="2087" cy="2094" r="26"/><text class="m f4" x="2085" y="2091">C2H2</text><text class="m i4" x="2085" y="2110">GRMZM2G011357</text></g>
<g id="p4-sbp"><circle class="sbp" cx="1689" cy="2100" r="26"/><text class="m g17" x="1689" y="2099">SBP</text><text class="m i4" x="1685" y="2117">GRMZM2G371033</text></g>
<g id="p4-arf-874163"><circle class="arf" cx="1948" cy="2114" r="26"/><text class="m g18" x="1948" y="2111">ARF</text><text class="m i4" x="1946" y="2129">GRMZM5G874163</text></g>
<g id="p4-arf-437460"><circle class="arf" cx="1871" cy="2144" r="26"/><text class="m g18" x="1871" y="2147">ARF</text><text class="m i4" x="1869" y="2165">GRMZM2G437460</text></g>
<g id="p4-arf-056120"><circle class="arf" cx="2130" cy="2145" r="26"/><text class="m f4" x="2130" y="2146">ARF</text><text class="m i4" x="2127" y="2165">GRMZM2G056120</text></g>
<g id="p4-arf-390641"><circle class="arf" cx="1685" cy="2146" r="26"/><text class="m f4" x="1685" y="2151">ARF</text><text class="m i4" x="1685" y="2169">GRMZM2G390641</text></g>
<g id="p4-arf-ac207656"><circle class="arf" cx="1936" cy="2181" r="26"/><text class="m g18" x="1936" y="2186">ARF</text><text class="m i4" x="1936" y="2204">AC207656.3_FG002</text></g>
<g id="p4-nfya-837944"><circle class="nfya" cx="2155" cy="2202" r="26"/><text class="m f4" x="2155" y="2202">NF-YA</text><text class="m i4" x="2152" y="2219">GRMZM5G837944</text></g>
<g id="p4-c2h2-093305"><circle class="c2h2" cx="1832" cy="2221" r="26"/><text class="m g17" x="1832" y="2226">C2H2</text><text class="m i4" x="1828" y="2243">GRMZM2G093305</text></g>
<g id="p4-myb-089244"><circle class="myb" cx="2180" cy="2252" r="26"/><text class="m f4" x="2182" y="2257">MYB</text><text class="m i4" x="2175" y="2279">GRMZM2G089244</text></g>
</g>
</svg>
